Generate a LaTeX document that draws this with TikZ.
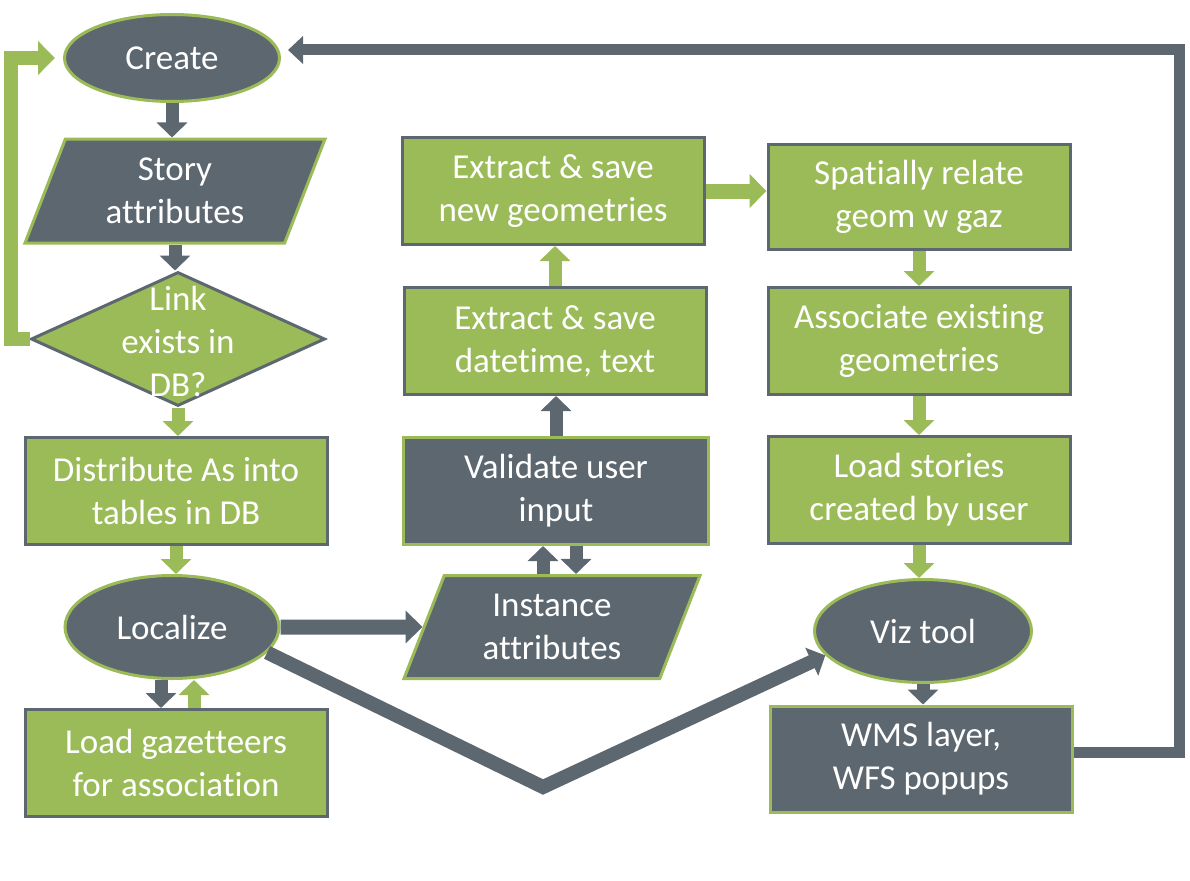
\documentclass[tikz,border=0pt]{standalone}
\usepackage{fontspec}
\setmainfont{Carlito}[Ligatures=NoCommon]
\usetikzlibrary{shapes.geometric,arrows.meta}
\definecolor{leaf}{HTML}{9BBB59}
\definecolor{slate}{HTML}{5D676F}

\begin{document}
\begin{tikzpicture}[x=1pt, y=-1pt,
		every node/.style={text=white, align=center, font=\fontsize{35}{43}\selectfont, inner sep=2pt},
		greenbox/.style={draw=slate, fill=leaf, line width=3pt, minimum width=302pt, minimum height=107pt},
		darkbox/.style={draw=leaf, fill=slate, line width=3pt, minimum width=302pt, minimum height=107pt},
		darkoval/.style={ellipse, draw=leaf, fill=slate, line width=3pt, minimum width=215pt, minimum height=103pt},
		darkslant/.style={trapezium, trapezium left angle=60, trapezium right angle=120, trapezium stretches body, draw=leaf, fill=slate, line width=3pt, minimum width=300pt, minimum height=104pt},
		greenflow/.style={draw=leaf, line width=13pt, -{Triangle[length=15pt,width=30pt]}},
		darkflow/.style={draw=slate, line width=13pt, -{Triangle[length=15pt,width=30pt]}}]
		\useasboundingbox (0,0) rectangle (1190,880);
		% left column
		\node[darkoval, minimum height=87pt] (create) at (172,58) {Create};
		\node[darkslant] (story) at (175,191) {Story\\attributes};
		\node[diamond, draw=slate, fill=leaf, line width=3pt, minimum width=294pt, minimum height=134pt, inner sep=0pt] (link) at (178,339) {};
		\node (linktext) at ([yshift=-2pt]link.center) {Link\\exists in\\DB?};
		\node[greenbox] (distribute) at (176,491) {Distribute As into\\tables in DB};
		\node[darkoval, minimum width=214pt] (localize) at (172,627) {Localize};
		\node[greenbox] (gazetteers) at (176,763) {Load gazetteers\\for association};
		% middle column
		\node[greenbox] (geometries) at (553,191) {Extract \& save\\new geometries};
		\node[greenbox] (datetime) at (555,341) {Extract \& save\\datetime, text};
		\node[darkbox, minimum width=305pt] (validate) at (556,491) {Validate user\\input};
		\node[darkslant, minimum width=296pt, minimum height=103pt] (instance) at (552,627) {Instance\\attributes};
		% right column
		\node[greenbox, minimum height=105pt] (spatial) at (919,197) {Spatially relate\\geom w gaz};
		\node[greenbox] (associate) at (919,341) {Associate existing\\geometries};
		\node[greenbox] (stories) at (919,490) {Load stories\\created by user};
		\node[darkoval, minimum width=217pt] (viz) at (923,631) {Viz tool};
		\node[darkbox, minimum height=106pt] (wms) at (921,759) {WMS layer,\\WFS popups};
		\coordinate (dip) at (543,787);

		\draw[darkflow] (create.south) -- (create.south |- story.north);
		\draw[darkflow] (story.south) -- (story.south |- link.north);
		\draw[greenflow] (link.south) -- (link.south |- distribute.north);
		\draw[greenflow] (distribute.south) -- (distribute.south |- localize.north);
		\draw[darkflow] ([xshift=-15pt]gazetteers.north |- localize.south) -- ([xshift=-15pt]gazetteers.north);
		\draw[greenflow] ([xshift=18pt]gazetteers.north) -- ([xshift=18pt]gazetteers.north |- localize.south);
		\draw[darkflow, line width=15pt, -{Triangle[length=17pt,width=32pt]}] (localize.east) -- (instance.west);
		\draw[darkflow, line width=14pt] (localize.-15) -- (dip) -- (viz.194);
		\draw[darkflow] ([xshift=-13pt]validate.south |- instance.north) -- ([xshift=-13pt]validate.south);
		\draw[darkflow] ([xshift=20pt]validate.south) -- ([xshift=20pt]validate.south |- instance.north);
		\draw[darkflow] (validate.north) -- (validate.north |- datetime.south);
		\draw[greenflow] (datetime.north) -- (datetime.north |- geometries.south);
		\draw[greenflow, line width=15pt, -{Triangle[length=17pt,width=33pt]}] (geometries.east) -- (geometries.east -| spatial.west);
		\draw[greenflow] (spatial.south) -- (spatial.south |- associate.north);
		\draw[greenflow] (associate.south) -- (associate.south |- stories.north);
		\draw[greenflow] (stories.south) -- (stories.south |- viz.north);
		\draw[darkflow] (viz.south) -- (viz.south |- wms.north);
		\draw[darkflow, line width=11pt, -{Triangle[length=15pt,width=27pt]}] ([yshift=7pt]wms.east) -- ++(106,0) |- ([xshift=7pt,yshift=8pt]create.east);
		\draw[greenflow, line width=14pt, -{Triangle[length=17pt,width=33pt]}] (link.west) -- ++(-19,0) |- ([xshift=-8pt]create.west);
	\end{tikzpicture}
\end{document}
